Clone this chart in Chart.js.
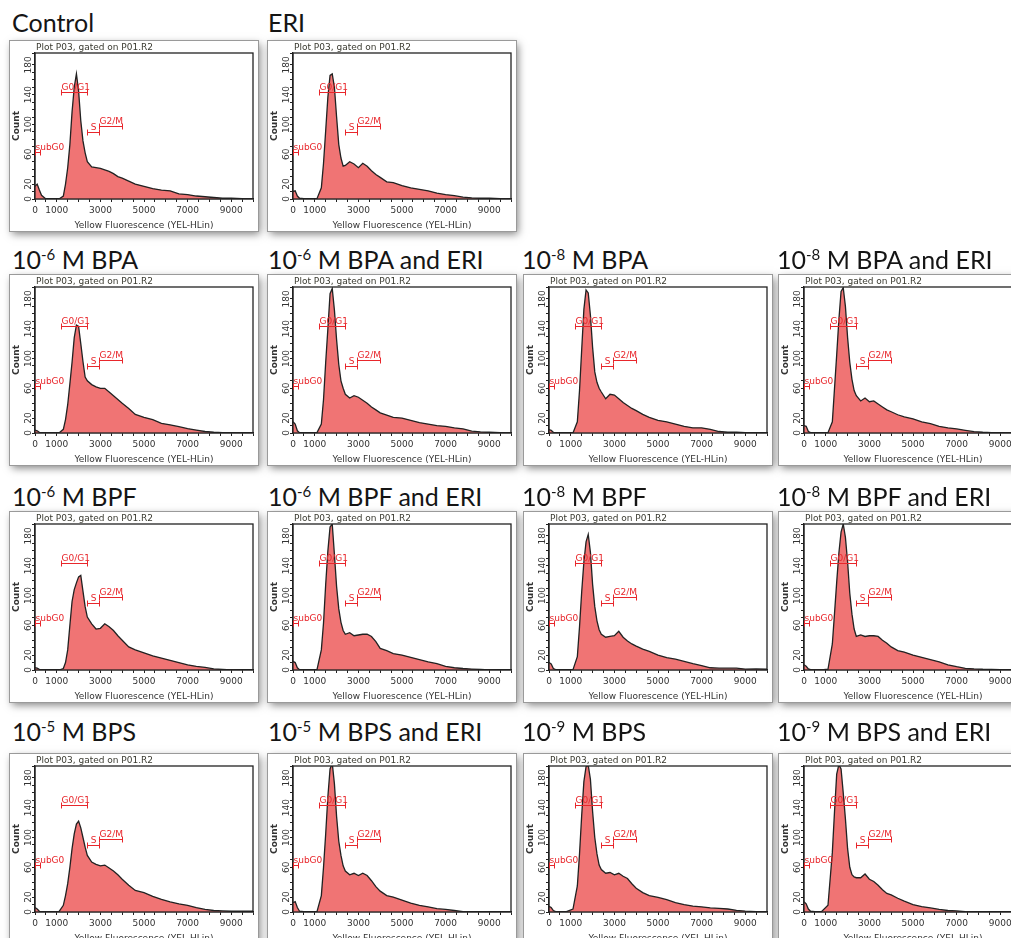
<!DOCTYPE html>
<html>
  <head>
    <meta charset="UTF-8" />
    <title>Cell cycle histograms</title>
    <style>
      body { margin: 0; width: 1011px; height: 938px; overflow: hidden; position: relative; background: #fff; }
      .label { position: absolute; font-family: Lato, "Open Sans", sans-serif; font-size: 25px; line-height: 25px; color: #151515; white-space: nowrap; }
      .label sup { font-size: 15px; vertical-align: 9px; line-height: 0; }
      .box { position: absolute; width: 248px; height: 190px; background: #fff; outline: 1px solid #9a9a9a; box-shadow: 2px 3px 8px rgba(0,0,0,0.5); }
      .box canvas { position: absolute; left: 0; top: 0; }
    </style>
  </head>
  <body>
    <script src="https://cdn.jsdelivr.net/npm/chart.js@4.4.0/dist/chart.umd.min.js"></script>
    <script>
      // fluorescence bins (YEL-HLin)
      const fluor = [0, 100, 200, 300, 500, 800, 1100, 1300, 1400, 1500, 1600, 1700, 1800, 1900, 2000, 2100, 2200, 2300, 2400, 2600, 2800, 3000, 3200, 3400, 3600, 3800, 4000, 4300, 4600, 5000, 5400, 5800, 6200, 6600, 7000, 7400, 7800, 8200, 8600, 9000, 9500, 10000];

      // counts per bin
      const control = [17, 20, 12, 5, 0, 0, 0, 4, 20, 42, 73, 117, 150, 168, 145, 105, 78, 62, 50, 43, 42, 41, 39, 37, 34, 30, 28, 24, 20, 17, 14, 12, 11, 7, 6, 4, 3, 2, 1, 1, 0.5, 0];
      const eri = [10, 11, 4, 1, 0.5, 0.5, 0.5, 15, 48, 92, 137, 166, 168, 150, 110, 73, 55, 44, 45, 50, 47, 42, 48, 44, 38, 33, 29, 23, 22, 18, 15, 13, 11, 8, 6, 4.5, 2.5, 1.5, 1, 1, 0.5, 0];
      const bpa6 = [4, 3, 1, 0, 0, 0, 0, 5, 18, 38, 66, 95, 128, 145, 143, 120, 96, 75, 70, 65, 62, 60, 60, 55, 50, 45, 40, 33, 25, 21, 18, 13, 11, 8.5, 6, 4, 2, 1, 0.5, 0.5, 0, 0];
      const bpa6Eri = [15, 12, 3, 0.5, 0.5, 0.5, 0.5, 12, 45, 95, 140, 187, 194, 165, 125, 92, 70, 60, 52, 47, 50, 48, 44, 40, 35, 31, 27, 24, 21, 20, 17, 14, 12, 10, 9, 7, 5.5, 2.5, 1.5, 1, 0.5, 0];
      const bpa8 = [4.5, 3.5, 1, 0, 0, 0, 0, 15, 57, 112, 166, 192, 188, 158, 115, 82, 68, 60, 55, 46, 52, 51, 46, 41, 37, 33, 30, 25, 21, 17, 15, 12, 9, 7, 7, 5, 2, 1, 1, 0.5, 0, 0];
      const bpa8Eri = [10, 9, 2, 0.5, 0.5, 0.5, 0.5, 15, 60, 105, 152, 190, 195, 170, 128, 95, 72, 57, 50, 43, 47, 42, 43, 39, 35, 31, 28.5, 24.5, 21.5, 19, 15, 12.5, 9, 7, 5.5, 3.6, 1.8, 1, 0.5, 0.5, 0, 0];
      const bpf6 = [3, 2.5, 1, 0, 0, 0, 0, 2, 10, 27, 60, 92, 108, 117, 125, 127, 106, 85, 71, 62, 55, 56, 62, 58, 53, 46, 40, 31, 27, 23, 19, 16, 13, 10, 7, 5, 3.5, 1.5, 0.8, 0.3, 0, 0];
      const bpf6Eri = [11.5, 10, 3, 0.5, 0.5, 0.5, 0.5, 27, 63, 115, 160, 192, 196, 155, 112, 82, 64, 53, 48, 50, 46, 47, 48, 48, 45, 38, 29, 26, 22, 20, 17, 14, 11, 8.5, 5, 3, 2, 1.3, 0.8, 0.3, 0, 0];
      const bpf8 = [10, 8, 2, 0.5, 0.5, 0.5, 0.5, 18, 58, 105, 145, 172, 182, 158, 115, 85, 66, 54, 48, 44, 45, 46, 52, 44, 39, 35, 32, 28, 25, 20, 16.5, 14.5, 11.5, 8.5, 6, 3, 2.5, 2.5, 2.5, 1.2, 1.5, 1];
      const bpf8Eri = [7, 5, 1.5, 0.5, 0.3, 0.3, 1, 35, 76, 118, 157, 185, 196, 178, 145, 103, 75, 55, 45, 47, 45, 46, 46, 45, 40, 36, 31, 26, 24, 20, 17, 14, 11, 7, 4.5, 2.3, 1.5, 1, 0.8, 0.5, 0, 0];
      const bps5 = [6, 4, 1, 0, 0, 0, 0.5, 9, 22, 38, 60, 85, 105, 118, 122, 113, 100, 87, 76, 67, 64, 62, 63, 59, 55, 50, 44, 36, 29, 26, 21, 17, 13.5, 11, 9, 6, 3.5, 2, 1.4, 1, 1, 1];
      const bps5Eri = [12.5, 14, 6, 1, 0.5, 0.5, 0.5, 22, 60, 105, 155, 192, 200, 172, 128, 95, 76, 62, 55, 50, 52, 49, 52, 49, 42, 34, 28, 22, 20, 16, 12, 9, 7, 4.5, 3.5, 2, 0.5, 0, 0, 0, 0, 0];
      const bps9 = [7.5, 6, 2, 0.5, 0.5, 0.5, 4, 35, 78, 130, 175, 195, 197, 178, 135, 100, 78, 63, 57, 52, 53, 50, 52, 48, 45, 38, 32, 26, 22, 19.5, 16.5, 12.5, 10, 8, 7, 5.5, 5, 4, 2.2, 1.2, 0.5, 0];
      const bps9Eri = [13.7, 11, 4, 1, 0.5, 0.5, 9, 80, 135, 185, 198, 192, 160, 125, 85, 60, 50, 47, 46, 46, 51, 44, 41, 36, 30, 25, 23, 18.5, 14.5, 10, 7.3, 5.5, 3.5, 2, 1.4, 0.5, 0, 0, 0, 0, 0, 0];

      const panelTitles = [
        "Control", "ERI",
        "10<sup>-6</sup> M BPA", "10<sup>-6</sup> M BPA and ERI", "10<sup>-8</sup> M BPA", "10<sup>-8</sup> M BPA and ERI",
        "10<sup>-6</sup> M BPF", "10<sup>-6</sup> M BPF and ERI", "10<sup>-8</sup> M BPF", "10<sup>-8</sup> M BPF and ERI",
        "10<sup>-5</sup> M BPS", "10<sup>-5</sup> M BPS and ERI", "10<sup>-9</sup> M BPS", "10<sup>-9</sup> M BPS and ERI"
      ];
      const panelCounts = [control, eri, bpa6, bpa6Eri, bpa8, bpa8Eri, bpf6, bpf6Eri, bpf8, bpf8Eri, bps5, bps5Eri, bps9, bps9Eri];

      // gates
      const gateNames = ["subG0", "G0/G1", "S", "G2/M"];
      const gateFrom = [0, 1200, 2400, 2950];
      const gateTo = [250, 2400, 2950, 4000];
      const gateLevel = [63, 144, 90, 98];

      const xTickLabels = [0, 1000, 3000, 5000, 7000, 9000];
      const yTickLabels = [0, 20, 60, 100, 140, 180];

      // page layout
      const colLeft = [10, 268, 524, 779];
      const rowTop = [41, 275, 512, 754];
      const titleLeft = [12, 268, 522, 777];
      const titleBase = [31, 268, 505, 740];

      Chart.defaults.font.family = '"DejaVu Sans", sans-serif';
      Chart.defaults.font.size = 9;
      Chart.defaults.color = "#333";

      const framePlugin = {
        id: "frame",
        afterDatasetsDraw(chart) {
          const { ctx, chartArea: a, scales: { x, y } } = chart;
          ctx.save();
          ctx.strokeStyle = "#222";
          ctx.lineWidth = 1.3;
          ctx.strokeRect(a.left, a.top, a.right - a.left, a.bottom - a.top);

          ctx.fillStyle = "#3a3a30";
          ctx.font = '9px "DejaVu Sans"';
          ctx.textBaseline = "bottom";
          ctx.textAlign = "left";
          ctx.fillText("Plot P03, gated on P01.R2", a.left + 1, a.top - 0.5);

          ctx.strokeStyle = "#e8262b";
          ctx.fillStyle = "#e8262b";
          ctx.lineWidth = 1;
          gateNames.forEach((name, i) => {
            const x0 = Math.round(x.getPixelForValue(gateFrom[i])) + 0.5;
            const x1 = Math.round(x.getPixelForValue(gateTo[i])) + 0.5;
            const yy = Math.round(y.getPixelForValue(gateLevel[i])) + 0.5;
            ctx.beginPath();
            ctx.moveTo(x0, yy); ctx.lineTo(x1, yy);
            ctx.moveTo(x0, yy - 3); ctx.lineTo(x0, yy + 3);
            ctx.moveTo(x1, yy - 3); ctx.lineTo(x1, yy + 3);
            ctx.stroke();
            const w = ctx.measureText(name).width;
            const tx = Math.max(x0, (x0 + x1) / 2 - w / 2);
            ctx.fillText(name, tx, yy - 0.5);
          });
          ctx.restore();
        }
      };

      panelCounts.forEach((counts, i) => {
        const slot = i < 2 ? [0, i] : [1 + Math.floor((i - 2) / 4), (i - 2) % 4];
        const r = slot[0], c = slot[1];

        const label = document.createElement("div");
        label.className = "label";
        label.innerHTML = panelTitles[i];
        label.style.left = titleLeft[c] + "px";
        label.style.top = (titleBase[r] - 21) + "px";
        document.body.appendChild(label);

        const box = document.createElement("div");
        box.className = "box";
        box.style.left = colLeft[c] + "px";
        box.style.top = rowTop[r] + "px";
        const canvas = document.createElement("canvas");
        canvas.width = 248;
        canvas.height = 190;
        box.appendChild(canvas);
        document.body.appendChild(box);

        new Chart(canvas.getContext("2d"), {
          type: "line",
          data: {
            datasets: [{
              data: fluor.map((f, k) => ({ x: f, y: counts[k] })),
              fill: "origin",
              backgroundColor: "#f07474",
              borderColor: "#222",
              borderWidth: 1.3,
              pointRadius: 0,
              tension: 0
            }]
          },
          options: {
            responsive: false,
            animation: false,
            events: [],
            layout: { padding: { top: 12, right: 5, left: 0, bottom: 0 } },
            plugins: { legend: { display: false }, tooltip: { enabled: false } },
            scales: {
              x: {
                type: "linear",
                min: 0,
                max: 10000,
                afterFit: (s) => { s.height = 32; },
                grid: { display: true, drawOnChartArea: false, drawTicks: true, tickLength: 3, color: "#222" },
                border: { display: true, color: "#222", width: 1.3 },
                ticks: {
                  stepSize: 500,
                  autoSkip: false,
                  maxRotation: 0,
                  padding: 3,
                  color: "#333",
                  callback: (v) => (xTickLabels.includes(v) ? String(v) : "")
                },
                title: { display: true, text: "Yellow Fluorescence (YEL-HLin)", color: "#333", padding: { top: 0, bottom: 0 }, font: { size: 9 } }
              },
              y: {
                min: 0,
                max: 196,
                afterFit: (s) => { s.width = 25; },
                grid: { display: true, drawOnChartArea: false, drawTicks: true, tickLength: 3, color: "#222" },
                border: { display: true, color: "#222", width: 1.3 },
                ticks: {
                  stepSize: 10,
                  autoSkip: false,
                  minRotation: 90,
                  maxRotation: 90,
                  crossAlign: "center",
                  padding: -5,
                  color: "#333",
                  callback: (v) => (yTickLabels.includes(v) ? String(v) : "")
                },
                title: { display: true, text: "Count", color: "#333", padding: { top: 1, bottom: 0 }, font: { size: 9, weight: "bold" } }
              }
            }
          },
          plugins: [framePlugin]
        });
      });
    </script>
  </body>
</html>
